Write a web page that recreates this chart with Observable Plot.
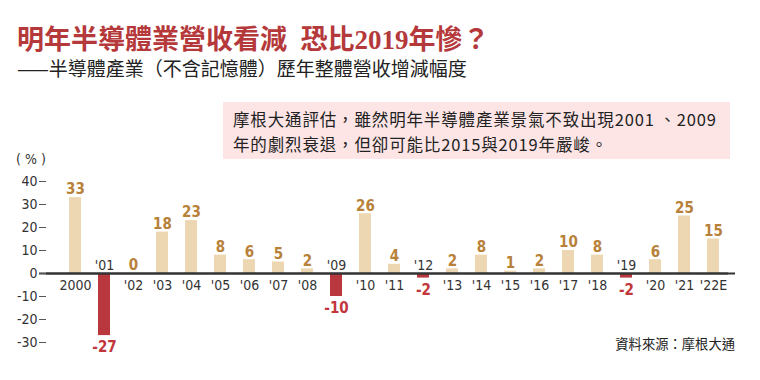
<!DOCTYPE html>
<html>
<head>
<meta charset="utf-8">
<script src="https://cdn.jsdelivr.net/npm/d3@7"></script>
<script src="https://cdn.jsdelivr.net/npm/@observablehq/plot@0.6"></script>
<style>
  html, body { margin: 0; padding: 0; background: #fff; }
  #wrap { position: relative; width: 760px; height: 380px; overflow: hidden; font-family: "Noto Sans CJK TC", "Noto Sans", sans-serif; }
  #chart { position: absolute; left: 0; top: 0; }
  .title { position: absolute; left: 17px; top: 27px; font-family: "Liberation Serif", "Noto Sans CJK TC", serif; font-weight: 700; font-size: 27px; color: #b5393b; white-space: pre; line-height: 1; }
  .subtitle { position: absolute; left: 17px; top: 58px; font-size: 19px; color: #222; white-space: pre; line-height: 1; }
  .note { position: absolute; left: 223px; top: 102px; width: 507px; height: 57px; background: #fde5e6; box-sizing: border-box; padding: 5px 0 0 10px; font-size: 16.5px; letter-spacing: 0.85px; line-height: 25px; color: #222; white-space: pre; }
  .unit { position: absolute; left: 16px; top: 151px; font-family: "Liberation Sans Narrow", "DejaVu Sans", sans-serif; font-stretch: condensed; font-size: 14px; color: #333; white-space: pre; }
  .source { position: absolute; right: 25px; top: 334px; font-size: 13.3px; color: #222; white-space: pre; }
</style>
</head>
<body>
<div id="wrap">
  <div id="chart"></div>
  <div class="title">明年半導體業營收看減  恐比2019年慘？</div>
  <div class="subtitle">——半導體產業（不含記憶體）歷年整體營收增減幅度</div>
  <div class="note">摩根大通評估，雖然明年半導體產業景氣不致出現2001 、2009
年的劇烈衰退，但卻可能比2015與2019年嚴峻。</div>
  <div class="unit">( % )</div>
  <div class="source">資料來源：摩根大通</div>
</div>
<script>
const years = ["2000","'01","'02","'03","'04","'05","'06","'07","'08","'09","'10","'11","'12","'13","'14","'15","'16","'17","'18","'19","'20","'21","'22E"];
const values = [33,-27,0,18,23,8,6,5,2,-10,26,4,-2,2,8,1,2,10,8,-2,6,25,15];
const yTicks = [-30,-20,-10,0,10,20,30,40];

const data = years.map((y, i) => ({year: y, value: values[i]}));
const pos = data.filter(d => d.value >= 0);
const neg = data.filter(d => d.value < 0);
const posBar = "#edd6b2", negBar = "#b8383d";
const posText = "#b8813a", negText = "#c2353a";
const numFont = "'Liberation Sans Narrow', 'DejaVu Sans', sans-serif";

const chart = Plot.plot({
  width: 760,
  height: 380,
  marginLeft: 46,
  marginRight: 25,
  marginTop: 0,
  marginBottom: 0,
  style: {background: "transparent", fontFamily: numFont, fontStretch: "condensed", overflow: "visible"},
  x: {type: "band", domain: years, range: [53.2, 734.8], paddingInner: 0.6, paddingOuter: 0.3, axis: null},
  y: {domain: [-30, 40], range: [342, 181], axis: null},
  marks: [
    Plot.barY(pos, {x: "year", y: "value", fill: posBar}),
    Plot.barY(neg, {x: "year", y: "value", fill: negBar}),
    Plot.ruleY([0], {stroke: "#333", strokeWidth: 2}),
    Plot.ruleY([0], {stroke: "#333", strokeWidth: 2, dx: -7}),
    Plot.axisY({ticks: yTicks, tickSize: 7, tickPadding: 2, fontSize: 14, stroke: "#555", color: "#333", tickFormat: d => String(d), label: null}),
    Plot.text(pos, {x: "year", y: "value", text: d => String(d.value), dy: -8, fill: posText, fontWeight: "bold", fontSize: 15}),
    Plot.text(neg, {x: "year", y: "value", text: d => String(d.value), dy: 12, fill: negText, fontWeight: "bold", fontSize: 15}),
    Plot.text(pos, {x: "year", y: 0, text: "year", dy: 12, fill: "#333", fontSize: 14}),
    Plot.text(neg, {x: "year", y: 0, text: "year", dy: -8, fill: "#333", fontSize: 14})
  ]
});
document.getElementById("chart").appendChild(chart);
</script>
</body>
</html>
